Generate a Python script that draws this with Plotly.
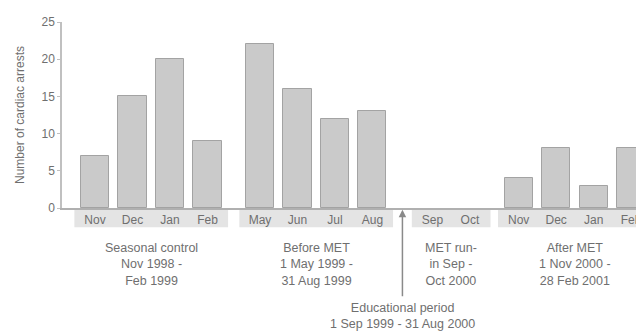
import plotly.graph_objects as go

# ---- data ----
group_labels = [
    "Seasonal control<br>Nov 1998 -<br>Feb 1999",
    "Before MET<br>1 May 1999 -<br>31 Aug 1999",
    "MET run-<br>in Sep -<br>Oct 2000",
    "After MET<br>1 Nov 2000 -<br>28 Feb 2001",
]
group_months = [
    ["Nov", "Dec", "Jan", "Feb"],
    ["May", "Jun", "Jul", "Aug"],
    ["Sep", "Oct"],
    ["Nov", "Dec", "Jan", "Feb"],
]
group_values = [
    [7, 15, 20, 9],
    [22, 16, 12, 13],
    [0, 0],
    [4, 8, 3, 8],
]
y_ticks = [0, 5, 10, 15, 20, 25]
y_title = "Number of cardiac arrests"
edu_label = "Educational period<br>1 Sep 1999 - 31 Aug 2000"

# ---- layout constants ----
group_starts = [0.0, 4.4, 9.0, 11.3]
edu_x = 8.2
bar_w = 0.75
txt = "#6f6f6f"
font_family = "Liberation Sans, Arial, sans-serif"

xs, ys, labels = [], [], []
for g, months in enumerate(group_months):
    for i, m in enumerate(months):
        xs.append(group_starts[g] + i)
        ys.append(group_values[g][i])
        labels.append(m)

line_w = [1 if v > 0 else 0 for v in ys]

fig = go.Figure()
fig.add_trace(go.Bar(
    x=xs, y=ys, width=bar_w,
    marker=dict(color="#cacaca", line=dict(color="#a3a3a3", width=line_w)),
    hoverinfo="skip", showlegend=False,
))

shapes = []
annotations = []
for g, months in enumerate(group_months):
    x0 = group_starts[g] - 0.55
    x1 = group_starts[g] + len(months) - 1 + 0.55
    shapes.append(dict(type="rect", xref="x", yref="paper", x0=x0, x1=x1,
                       y0=-0.103, y1=-0.004, fillcolor="#e4e4e4",
                       line=dict(width=0), layer="below"))
    annotations.append(dict(
        x=group_starts[g] + (len(months) - 1) / 2, y=-0.168,
        xref="x", yref="paper", xanchor="center", yanchor="top",
        text=group_labels[g], showarrow=False,
        font=dict(size=12.5, color=txt, family=font_family),
    ))

# arrow for educational period
annotations.append(dict(
    x=edu_x, y=-0.01, xref="x", yref="paper", text="", showarrow=True,
    ax=0, ay=88, arrowhead=2, arrowsize=1, arrowwidth=1.5, arrowcolor="#8a8a8a",
))
annotations.append(dict(
    x=edu_x, y=-0.49, xref="x", yref="paper", xanchor="center", yanchor="top",
    text=edu_label, showarrow=False,
    font=dict(size=12.5, color=txt, family=font_family),
))

fig.update_layout(
    width=636, height=333,
    margin=dict(l=62, r=0, t=22, b=125),
    paper_bgcolor="white", plot_bgcolor="white",
    font=dict(family=font_family, size=12, color=txt),
    shapes=shapes, annotations=annotations,
    bargap=0,
)
fig.update_xaxes(
    range=[-0.88, 14.43], tickvals=xs, ticktext=labels,
    showline=True, linecolor="#b0b0b0", linewidth=1.5,
    ticks="", showgrid=False, zeroline=False, ticklabeloverflow="allow",
    automargin=False,
    tickfont=dict(size=12, color=txt), fixedrange=True,
)
fig.update_yaxes(
    range=[0, 25], tickvals=y_ticks, showline=True, linecolor="#c0c0c0",
    linewidth=1.5, ticks="outside", ticklen=3, tickcolor="#c0c0c0",
    showgrid=False, zeroline=False, automargin=False,
    title=dict(text=y_title, font=dict(size=12, color=txt), standoff=14),
    tickfont=dict(size=12, color=txt),
)

fig.write_html("out.html")
